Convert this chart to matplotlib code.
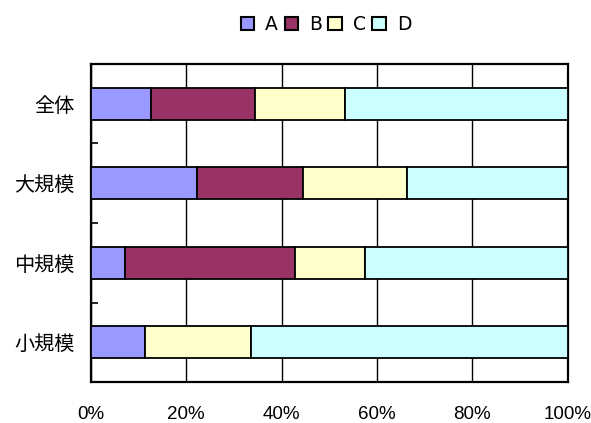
import matplotlib.pyplot as plt
from matplotlib.patches import Patch

categories = ['全体', '大規模', '中規模', '小規模']
series = ['A', 'B', 'C', 'D']
a_vals = [12.5, 22.2, 7.1, 11.3]
b_vals = [21.9, 22.3, 35.7, 0.0]
c_vals = [18.9, 21.8, 14.7, 22.3]
d_vals = [46.7, 33.7, 42.5, 66.4]
colors = ['#9999FF', '#993366', '#FFFFCC', '#CCFFFF']
xticks = [0, 20, 40, 60, 80, 100]
xtick_labels = ['0%', '20%', '40%', '60%', '80%', '100%']

fig = plt.figure(figsize=(5.91, 4.23), dpi=100)
ax = fig.add_axes([91 / 591, 1 - 382 / 423, 476.5 / 591, 318 / 423])

ypos = list(range(len(categories)))
left = [0.0] * len(categories)
for vals, col in zip([a_vals, b_vals, c_vals, d_vals], colors):
    ax.barh(ypos, vals, left=left, height=0.4, color=col,
            edgecolor='black', linewidth=1.3, zorder=3)
    left = [l + v for l, v in zip(left, vals)]

ax.set_xlim(0, 100)
ax.set_ylim(len(categories) - 0.5, -0.5)
ax.set_xticks(xticks)
ax.set_xticklabels(xtick_labels, fontsize=13.5, family='Liberation Sans')
ax.tick_params(axis='x', length=0, pad=17)
ax.xaxis.grid(True, color='black', linewidth=1.0, zorder=0)

ax.set_yticks(ypos)
ax.set_yticklabels(categories, fontsize=14.5, family=['Noto Sans CJK JP', 'DejaVu Sans'])
ax.tick_params(axis='y', length=0, pad=12)
ax.set_yticks([0.5, 1.5, 2.5], minor=True)
ax.tick_params(axis='y', which='minor', length=5, width=1.2, direction='in')

for s in ax.spines.values():
    s.set_linewidth(1.6)
    s.set_color('black')

handles = [Patch(facecolor=c, edgecolor='black', linewidth=1.5) for c in colors]
fig.legend(handles, series, loc='center', bbox_to_anchor=(326 / 591, 1 - 25 / 423),
           ncol=4, frameon=False, handlelength=0.7, handleheight=0.7,
           handletextpad=0.6, columnspacing=0.35,
           prop={'family': 'DejaVu Sans', 'size': 13.5})

fig.savefig('out.png', dpi=100)
